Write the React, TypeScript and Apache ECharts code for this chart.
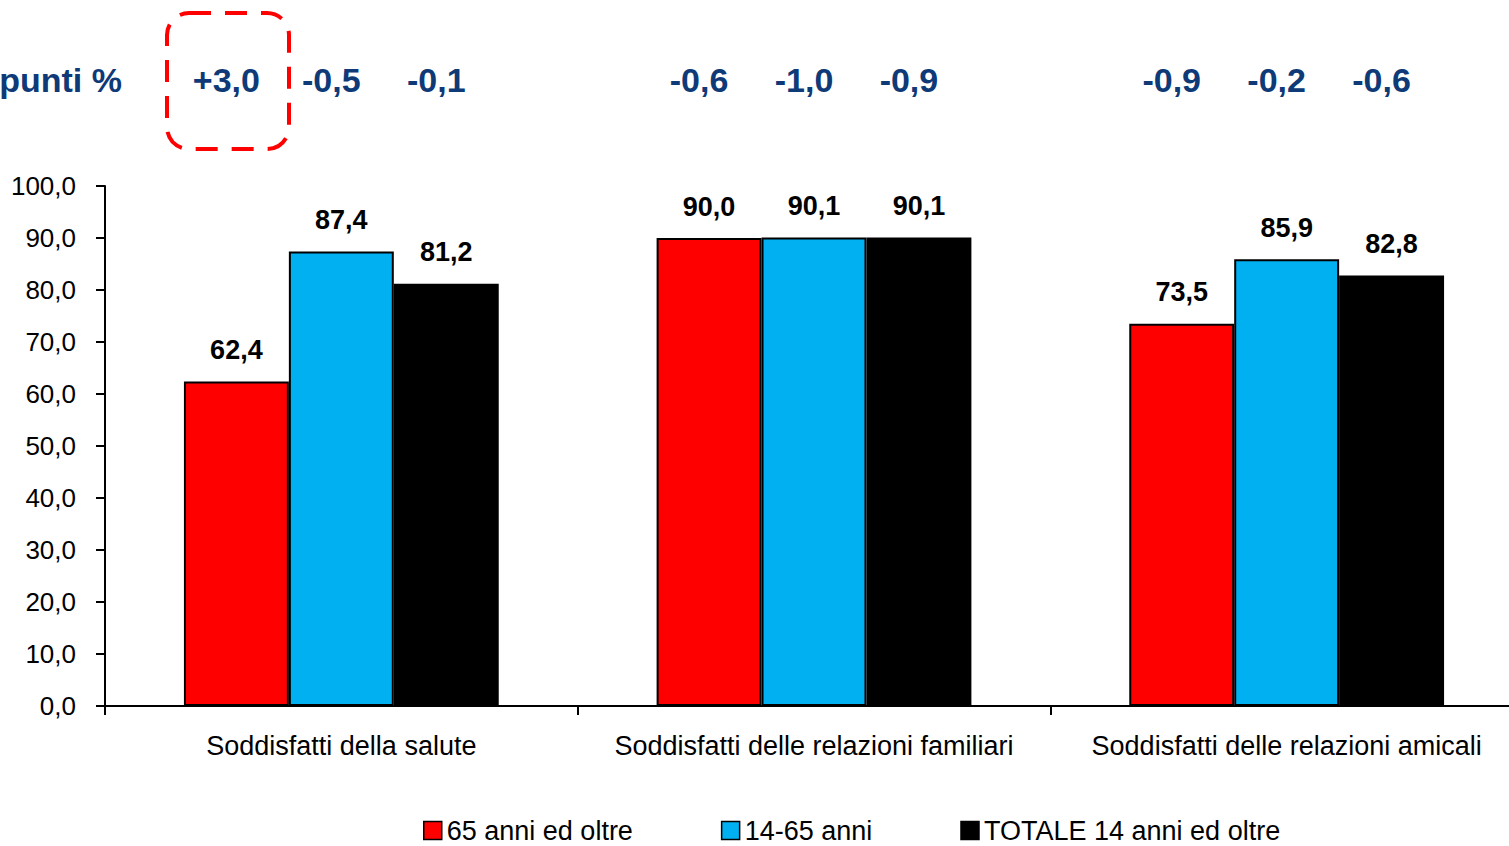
import React, { useEffect, useRef } from "react";
import * as echarts from "echarts";

const categories = [
  "Soddisfatti della salute",
  "Soddisfatti delle relazioni familiari",
  "Soddisfatti delle relazioni amicali",
];
const seriesNames = ["65 anni ed oltre", "14-65 anni", "TOTALE 14 anni ed oltre"];
const over65 = [62.4, 90.0, 73.5];
const age1465 = [87.4, 90.1, 85.9];
const totale = [81.2, 90.1, 82.8];
const diffs = [
  ["+3,0", "-0,5", "-0,1"],
  ["-0,6", "-1,0", "-0,9"],
  ["-0,9", "-0,2", "-0,6"],
];
const colors = ["#FF0000", "#00B0F0", "#000000"];
const FONT = "'Liberation Sans Narrow', 'Arial Narrow', 'Liberation Sans', sans-serif";
const NAVY = "#0E3A78";

const fmt = (v: number) => v.toFixed(1).replace(".", ",");

const CHART_W = 1523;

export default function App() {
  const ref = useRef<HTMLDivElement>(null);
  useEffect(() => {
    if (!ref.current) return;
    const chart = echarts.init(ref.current, undefined, { renderer: "svg" });
    const values = [over65, age1465, totale];
    const gridLeft = 105;
    const gridRight = 0;
    const barCatGap = 0.334;
    chart.setOption({
      animation: false,
      textStyle: { fontFamily: FONT },
      grid: { left: gridLeft, right: gridRight, top: 186, bottom: 140, containLabel: false },
      legend: {
        top: 812,
        left: 418,
        itemGap: 88,
        itemWidth: 18,
        itemHeight: 18,
        icon: "rect",
        textStyle: { fontFamily: FONT, fontSize: 27, color: "#000" },
        data: seriesNames.map((n) => ({ name: n, itemStyle: { borderColor: "#000", borderWidth: 1.5 } })),
      },
      xAxis: {
        type: "category",
        data: categories,
        axisLine: { lineStyle: { color: "#000", width: 2 } },
        axisTick: { show: true, length: 9, lineStyle: { color: "#000", width: 2 } },
        axisLabel: { fontFamily: FONT, fontSize: 27, color: "#000", margin: 26, interval: 0 },
      },
      yAxis: {
        type: "value",
        min: 0,
        max: 100,
        interval: 10,
        splitLine: { show: false },
        axisLine: { show: true, lineStyle: { color: "#000", width: 2 } },
        axisTick: { show: true, length: 9, lineStyle: { color: "#000", width: 2 } },
        axisLabel: {
          fontFamily: FONT,
          fontSize: 26,
          color: "#000",
          margin: 29,
          formatter: (v: number) => fmt(v),
        },
      },
      series: seriesNames.map((name, j) => ({
        name,
        type: "bar",
        data: values[j],
        barGap: "0%",
        barCategoryGap: barCatGap * 100 + "%",
        itemStyle: { color: colors[j], borderColor: "#000", borderWidth: 2 },
        label: {
          show: true,
          position: "top",
          distance: 18,
          fontFamily: FONT,
          fontSize: 27,
          fontWeight: "bold",
          color: "#000",
          formatter: (p: any) => fmt(p.value),
        },
      })),
    });

    const catW = (CHART_W - gridLeft - gridRight) / categories.length;
    const barW = (catW * (1 - barCatGap)) / 3;
    const texts: any[] = [
      {
        type: "text",
        x: 122,
        y: 80,
        style: {
          text: "punti %",
          font: `bold 34px ${FONT}`,
          fill: NAVY,
          align: "right",
          verticalAlign: "middle",
        },
      },
    ];
    categories.forEach((c, i) => {
      const cx = chart.convertToPixel({ xAxisIndex: 0 }, c) as number;
      diffs[i].forEach((d, j) => {
        texts.push({
          type: "text",
          x: cx + (j - 1) * barW - 10,
          y: 80,
          style: {
            text: d,
            font: `bold 34px ${FONT}`,
            fill: NAVY,
            align: "center",
            verticalAlign: "middle",
          },
        });
      });
    });
    texts.push({
      type: "rect",
      shape: { x: 167, y: 13, width: 122, height: 136, r: 22 },
      style: { fill: "none", stroke: "#FF0000", lineWidth: 4, lineDash: [22, 14] },
    });
    chart.setOption({ graphic: texts });
    return () => chart.dispose();
  }, []);
  return (
    <div
      style={{
        position: "absolute",
        left: 0,
        top: 0,
        width: 1509,
        height: 846,
        overflow: "hidden",
        background: "#fff",
      }}
    >
      <div ref={ref} style={{ width: CHART_W, height: 846 }} />
    </div>
  );
}
